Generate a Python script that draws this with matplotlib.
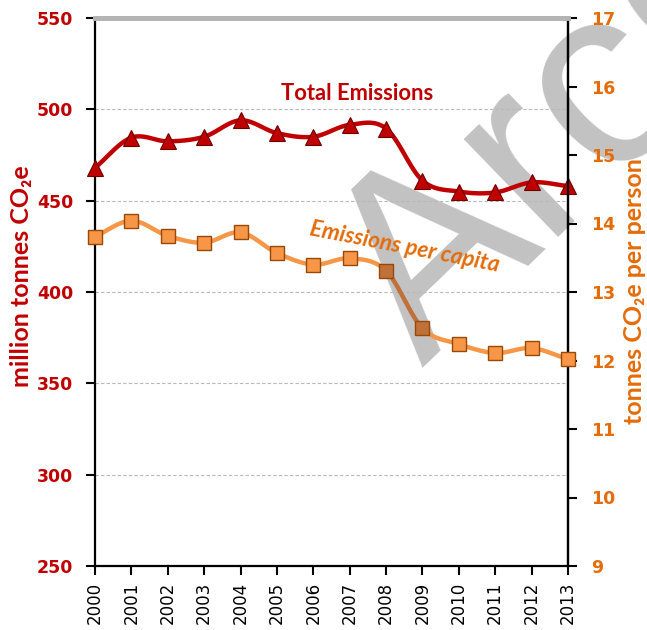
import numpy as np
import matplotlib
matplotlib.use("Agg")
import matplotlib.pyplot as plt

years = [2000, 2001, 2002, 2003, 2004, 2005, 2006, 2007, 2008, 2009, 2010, 2011, 2012, 2013]
total_emissions = [468, 484.5, 482.5, 485, 494, 487, 485, 491.5, 489.5, 461, 455, 454.5, 460, 458]
per_capita = [13.81, 14.04, 13.82, 13.72, 13.87, 13.57, 13.40, 13.49, 13.31, 12.47, 12.24, 12.11, 12.18, 12.02]
highlight_years = [2008, 2009]

left_ticks = [250, 300, 350, 400, 450, 500, 550]
right_ticks = [9, 10, 11, 12, 13, 14, 15, 16, 17]

RED = "#c00000"
RED_EDGE = "#6e0000"
ORANGE = "#f79646"
ORANGE_EDGE = "#984807"
ORANGE_TXT = "#e46c0a"
BROWN = "#c0713a"


def catmull_rom(x, y, n=30):
    x = np.asarray(x, float)
    y = np.asarray(y, float)
    px = np.concatenate([[2 * x[0] - x[1]], x, [2 * x[-1] - x[-2]]])
    py = np.concatenate([[2 * y[0] - y[1]], y, [2 * y[-1] - y[-2]]])
    segs = []
    for i in range(1, len(px) - 2):
        t = np.linspace(0, 1, n)
        t2, t3 = t * t, t * t * t
        def f(p):
            return 0.5 * ((2 * p[i]) + (-p[i - 1] + p[i + 1]) * t
                          + (2 * p[i - 1] - 5 * p[i] + 4 * p[i + 1] - p[i + 2]) * t2
                          + (-p[i - 1] + 3 * p[i] - 3 * p[i + 1] + p[i + 2]) * t3)
        segs.append((f(px), f(py)))
    return segs


fig = plt.figure(figsize=(6.47, 6.30), dpi=100)
ax = fig.add_axes([95 / 647, 64 / 630, 473 / 647, 548 / 630])
ax.patch.set_visible(False)
ax2 = ax.twinx()
ax2.patch.set_visible(False)

# watermark
fig.text(422 / 647, 1 - 368 / 630, "ArcGIS", fontsize=186, family="Liberation Sans",
         color="#c2c2c2", rotation=44, rotation_mode="anchor", ha="left", va="baseline",
         zorder=-5)

ax.set_xlim(2000, 2013)
ax.set_ylim(250, 550)
ax2.set_ylim(9, 17)

ax.set_xticks(years)
ax.set_xticklabels([str(y) for y in years], rotation=90, fontsize=12,
                   family="DejaVu Sans", color="black")
ax.set_yticks(left_ticks)
ax.set_yticklabels([str(v) for v in left_ticks], fontsize=12.5, family="DejaVu Sans",
                   fontweight="bold", color=RED)
ax2.set_yticks(right_ticks)
ax2.set_yticklabels([str(v) for v in right_ticks], fontsize=12.5, family="DejaVu Sans",
                    fontweight="bold", color=ORANGE_TXT)

ax.tick_params(axis="both", direction="out", length=6.5, width=1.5, color="black")
ax2.tick_params(axis="y", direction="out", length=6.5, width=1.5, color="black")
ax.tick_params(axis="y", pad=9)
ax.tick_params(axis="x", pad=5)
ax2.tick_params(axis="y", pad=10)

for a in (ax, ax2):
    for s in ("left", "bottom", "right"):
        a.spines[s].set_linewidth(1.6)
        a.spines[s].set_color("black")
    a.spines["top"].set_color("#b4b4b4")
    a.spines["top"].set_linewidth(3.5)
ax2.spines["left"].set_visible(False)
ax2.spines["bottom"].set_visible(False)

for v in left_ticks[1:-1]:
    ax.axhline(v, color="#b8b8b8", lw=0.8, ls=(0, (3, 2)), zorder=0.5)

# total emissions
for sx, sy in catmull_rom(years, total_emissions):
    ax.plot(sx, sy, color=RED, lw=3.2, solid_capstyle="round", zorder=3)
ax.plot(years, total_emissions, ls="none", marker="^", ms=11, mfc=RED, mec=RED_EDGE,
        mew=0.8, zorder=4, clip_on=False)

# per capita
segs = catmull_rom(years, per_capita)
for i, (sx, sy) in enumerate(segs):
    c = BROWN if (years[i] in highlight_years and years[i + 1] in highlight_years) else ORANGE
    ax2.plot(sx, sy, color=c, lw=3.2, solid_capstyle="round", zorder=3)
fills = [BROWN if y in highlight_years else ORANGE for y in years]
for x, y, fc in zip(years, per_capita, fills):
    ax2.plot([x], [y], ls="none", marker="s", ms=10, mfc=fc, mec=ORANGE_EDGE, mew=1.0,
             zorder=4, clip_on=False)

fig.text(357 / 647, 1 - 93 / 630, "Total Emissions", fontsize=15.8, family="Lato",
         fontweight="bold", color=RED, ha="center", va="center")
fig.text(405 / 647, 1 - 247 / 630, "Emissions per capita", fontsize=16.2, family="Lato",
         fontweight="bold", style="italic", color=ORANGE_TXT, ha="center", va="center",
         rotation=-11)

fig.text(22 / 647, 1 - 276 / 630, "million tonnes CO\u2082e", fontsize=18,
         family=["Lato", "Noto Sans", "DejaVu Sans"], fontweight="bold", color=RED,
         rotation=90, ha="center", va="center")
fig.text(634 / 647, 1 - 291 / 630, "tonnes CO\u2082e per person", fontsize=18,
         family=["Lato", "Noto Sans", "DejaVu Sans"], fontweight="bold", color=ORANGE_TXT,
         rotation=90, ha="center", va="center")

fig.savefig("out.png", dpi=100)
